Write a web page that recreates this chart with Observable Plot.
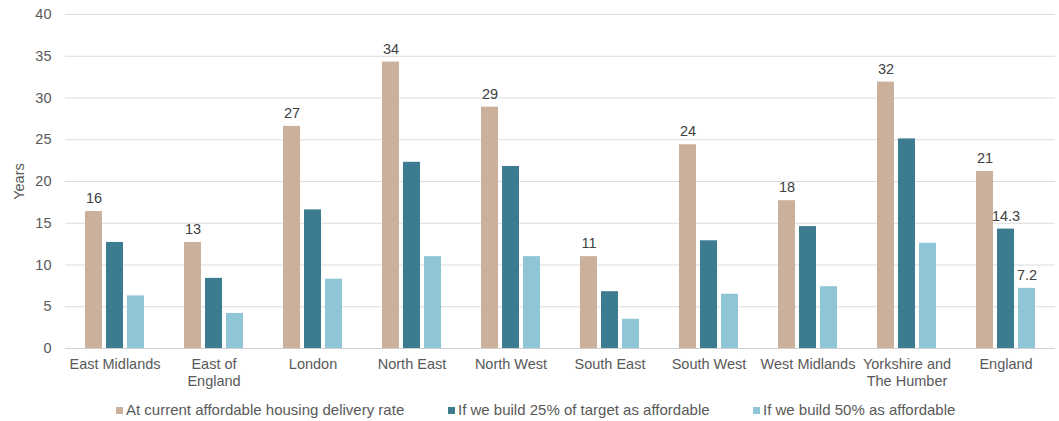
<!DOCTYPE html>
<html>
<head>
<meta charset="utf-8">
<script src="https://cdn.jsdelivr.net/npm/d3@7"></script>
<script src="https://cdn.jsdelivr.net/npm/@observablehq/plot@0.6"></script>
<style>
  html, body { margin: 0; padding: 0; background: #fff; }
  #wrap { position: relative; width: 1059px; height: 421px; font-family: "Liberation Sans", Arial, sans-serif; }
  #legend { position: absolute; top: 397px; left: 0; width: 1059px; height: 26px; font-size: 15px; color: #595959; }
  .item { position: absolute; top: 0; line-height: 26px; white-space: nowrap; }
  .sw { display: inline-block; width: 7px; height: 7px; margin-right: 3px; vertical-align: 1px; }
</style>
</head>
<body>
<div id="wrap"><div id="chart"></div><div id="legend"></div></div>
<script>
const regions = ["East Midlands", "East of England", "London", "North East", "North West", "South East", "South West", "West Midlands", "Yorkshire and The Humber", "England"];
const regionTicks = ["East Midlands", "East of\nEngland", "London", "North East", "North West", "South East", "South West", "West Midlands", "Yorkshire and\nThe Humber", "England"];
const series = ["At current affordable housing delivery rate", "If we build 25% of target as affordable", "If we build 50% as affordable"];
const seriesColors = ["#cbb09c", "#3d7b90", "#8fc5d6"];
const current = [16.4, 12.7, 26.6, 34.3, 28.9, 11.0, 24.4, 17.7, 31.9, 21.2];
const build25 = [12.7, 8.4, 16.6, 22.3, 21.8, 6.8, 12.9, 14.6, 25.1, 14.3];
const build50 = [6.3, 4.2, 8.3, 11.0, 11.0, 3.5, 6.5, 7.4, 12.6, 7.2];
const labelCurrent = ["16", "13", "27", "34", "29", "11", "24", "18", "32", "21"];
const label25 = [null, null, null, null, null, null, null, null, null, "14.3"];
const label50 = [null, null, null, null, null, null, null, null, null, "7.2"];
const yTicks = [0, 5, 10, 15, 20, 25, 30, 35, 40];
const legendLefts = [116, 448, 753];

const values = [current, build25, build50];
const labels = [labelCurrent, label25, label50];
const data = [];
regions.forEach((r, i) => {
  series.forEach((s, j) => {
    data.push({region: r, series: s, value: values[j][i], label: labels[j][i]});
  });
});
const tickMap = new Map(regions.map((r, i) => [r, regionTicks[i]]));

const chart = Plot.plot({
  width: 1059,
  height: 395,
  marginLeft: 60,
  marginRight: 0,
  marginTop: 14,
  marginBottom: 47,
  style: {fontFamily: "Liberation Sans, Arial, sans-serif", fontSize: "14.5px", color: "#595959", background: "#fff"},
  fx: {domain: regions, paddingInner: 0, paddingOuter: 0, label: null, axis: null},
  x: {domain: series, paddingInner: 0.18, paddingOuter: 0.86, axis: null},
  y: {domain: [0, 40]},
  color: {domain: series, range: seriesColors},
  marks: [
    Plot.ruleY(yTicks.filter(d => d > 0), {stroke: "#dcdcdc", strokeWidth: 1}),
    Plot.barY(data, {fx: "region", x: "series", y: "value", fill: "series"}),
    Plot.ruleY([0], {stroke: "#cfcfcf", strokeWidth: 1}),
    Plot.text(data.filter(d => d.label != null), {fx: "region", x: "series", y: "value", text: "label", dy: -13, fill: "#404040", fontSize: 14.5}),
    Plot.axisY({ticks: yTicks, tickSize: 0, tickPadding: 14, label: "Years", labelAnchor: "center", labelArrow: "none", labelOffset: 52, fill: "#595959", fontSize: 14.5}),
    Plot.axisFx({anchor: "bottom", tickSize: 0, tickPadding: 9, tickFormat: d => tickMap.get(d), label: null, fill: "#595959", fontSize: 14.5, lineHeight: 1.15})
  ]
});
document.getElementById("chart").appendChild(chart);

const legend = document.getElementById("legend");
series.forEach((s, j) => {
  const it = document.createElement("div");
  it.className = "item";
  it.style.left = legendLefts[j] + "px";
  const sw = document.createElement("span");
  sw.className = "sw";
  sw.style.background = seriesColors[j];
  it.appendChild(sw);
  it.appendChild(document.createTextNode(s));
  legend.appendChild(it);
});
</script>
</body>
</html>
